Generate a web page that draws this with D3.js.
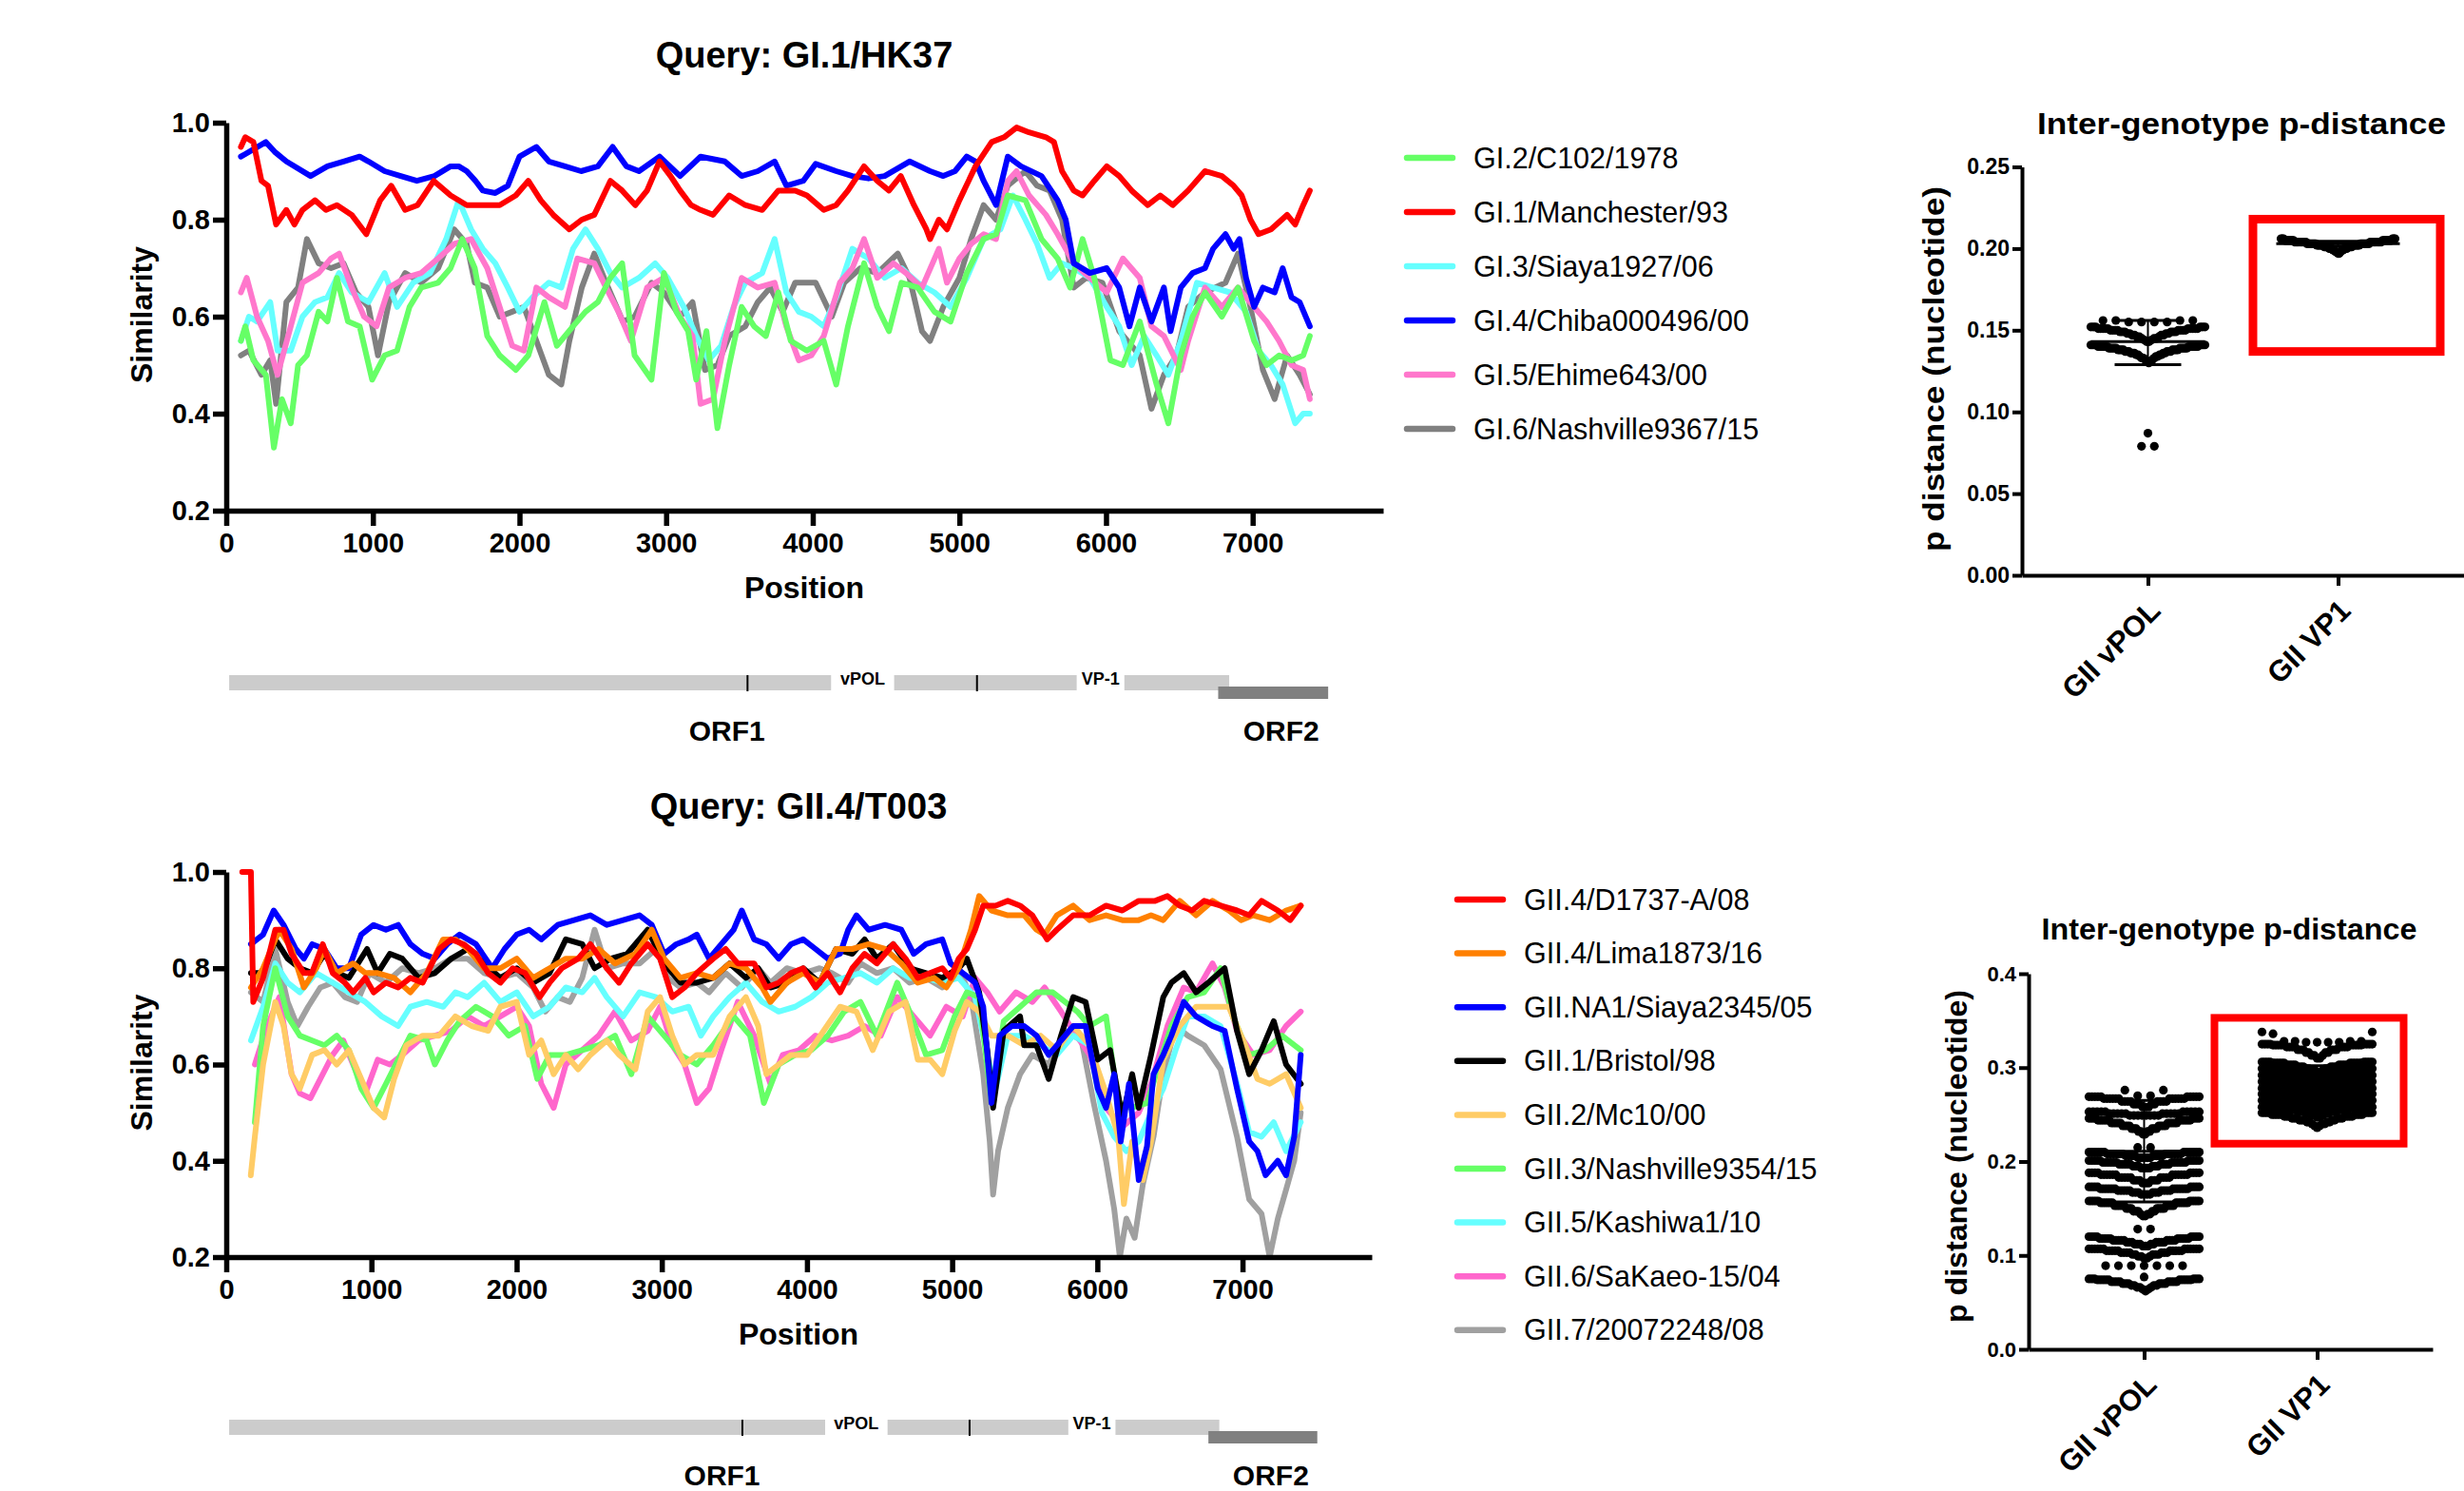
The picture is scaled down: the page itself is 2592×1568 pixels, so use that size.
<!DOCTYPE html>
<html><head><meta charset="utf-8">
<script src="https://cdn.jsdelivr.net/npm/d3@7"></script>
<style>
body{margin:0;background:#fff}
svg{display:block}
text{font-family:"Liberation Sans",Arial,sans-serif}
</style>
</head><body>
<svg id="c" width="2592" height="1568"></svg>
<script>
// ================= DATA =================
const positionTicks = [0,1000,2000,3000,4000,5000,6000,7000];
const similarityTicks = [0.2,0.4,0.6,0.8,1.0];

const giNames = ["GI.2/C102/1978","GI.1/Manchester/93","GI.3/Siaya1927/06","GI.4/Chiba000496/00","GI.5/Ehime643/00","GI.6/Nashville9367/15"];
const giColors = ["#66ff66","#ff0000","#66ffff","#0000ff","#ff77cc","#808080"];

const gi2_C102 = [[100,0.55],[130,0.58],[185,0.51],[270,0.48],[325,0.33],[380,0.43],[440,0.38],[490,0.50],[550,0.52],[630,0.61],[690,0.59],[755,0.68],[830,0.59],[910,0.58],[995,0.47],[1080,0.52],[1165,0.53],[1250,0.62],[1330,0.66],[1445,0.67],[1530,0.70],[1610,0.76],[1695,0.70],[1780,0.56],[1865,0.52],[1975,0.49],[2060,0.52],[2170,0.63],[2255,0.54],[2365,0.58],[2450,0.61],[2535,0.63],[2620,0.68],[2700,0.71],[2785,0.52],[2900,0.47],[2985,0.69],[3070,0.61],[3150,0.57],[3205,0.47],[3275,0.57],[3350,0.37],[3430,0.50],[3515,0.62],[3600,0.58],[3680,0.56],[3765,0.65],[3850,0.55],[3960,0.53],[4075,0.55],[4160,0.46],[4240,0.58],[4350,0.71],[4440,0.62],[4520,0.57],[4605,0.67],[4715,0.66],[4830,0.61],[4940,0.59],[5050,0.69],[5165,0.76],[5250,0.77],[5330,0.85],[5450,0.84],[5560,0.76],[5670,0.72],[5755,0.66],[5840,0.76],[5920,0.68],[6030,0.51],[6115,0.50],[6230,0.59],[6345,0.46],[6425,0.38],[6510,0.52],[6590,0.60],[6675,0.65],[6790,0.60],[6900,0.66],[7010,0.55],[7095,0.50],[7180,0.52],[7265,0.51],[7345,0.52],[7390,0.56]];
const gi1_Manchester = [[100,0.95],[130,0.97],[185,0.96],[240,0.88],[285,0.87],[340,0.79],[410,0.82],[465,0.79],[520,0.82],[605,0.84],[680,0.82],[755,0.83],[855,0.81],[955,0.77],[1050,0.84],[1125,0.87],[1220,0.82],[1305,0.83],[1415,0.88],[1530,0.85],[1640,0.83],[1750,0.83],[1865,0.83],[1975,0.85],[2060,0.88],[2145,0.84],[2230,0.81],[2340,0.78],[2425,0.80],[2510,0.81],[2620,0.88],[2700,0.86],[2790,0.83],[2870,0.86],[2955,0.92],[3030,0.89],[3095,0.86],[3170,0.83],[3235,0.82],[3320,0.81],[3430,0.85],[3540,0.83],[3655,0.82],[3765,0.86],[3880,0.86],[3960,0.85],[4075,0.82],[4160,0.83],[4240,0.86],[4350,0.91],[4440,0.88],[4520,0.86],[4600,0.89],[4690,0.83],[4775,0.78],[4800,0.76],[4860,0.80],[4915,0.78],[5000,0.84],[5110,0.91],[5220,0.96],[5305,0.97],[5390,0.99],[5475,0.98],[5590,0.97],[5645,0.96],[5700,0.90],[5780,0.86],[5840,0.85],[5920,0.88],[6005,0.91],[6090,0.89],[6175,0.86],[6285,0.83],[6370,0.85],[6455,0.83],[6560,0.86],[6675,0.90],[6790,0.89],[6870,0.87],[6925,0.85],[6985,0.80],[7040,0.77],[7125,0.78],[7235,0.81],[7290,0.79],[7345,0.83],[7390,0.86]];
const gi3_Siaya = [[100,0.55],[155,0.60],[210,0.59],[300,0.63],[350,0.53],[440,0.53],[520,0.60],[605,0.63],[690,0.64],[770,0.69],[855,0.65],[970,0.63],[1080,0.69],[1165,0.62],[1275,0.67],[1390,0.69],[1500,0.76],[1585,0.84],[1670,0.78],[1750,0.74],[1835,0.71],[1920,0.66],[2000,0.61],[2090,0.64],[2200,0.67],[2285,0.66],[2365,0.74],[2450,0.78],[2535,0.74],[2620,0.69],[2700,0.66],[2815,0.68],[2925,0.71],[3010,0.68],[3120,0.62],[3205,0.56],[3290,0.51],[3375,0.54],[3460,0.62],[3540,0.67],[3655,0.69],[3740,0.76],[3820,0.65],[3905,0.61],[3990,0.60],[4075,0.58],[4160,0.64],[4270,0.74],[4380,0.72],[4490,0.68],[4605,0.70],[4715,0.67],[4830,0.65],[4940,0.62],[5050,0.68],[5165,0.76],[5280,0.78],[5365,0.85],[5450,0.80],[5530,0.75],[5615,0.68],[5700,0.71],[5780,0.70],[5890,0.68],[6005,0.62],[6090,0.58],[6175,0.50],[6260,0.56],[6345,0.52],[6425,0.48],[6510,0.55],[6620,0.67],[6730,0.66],[6845,0.65],[6955,0.61],[7040,0.53],[7125,0.50],[7205,0.46],[7290,0.38],[7345,0.40],[7390,0.40]];
const gi4_Chiba = [[100,0.93],[270,0.96],[330,0.94],[410,0.92],[575,0.89],[690,0.91],[800,0.92],[910,0.93],[970,0.92],[1080,0.90],[1190,0.89],[1300,0.88],[1420,0.89],[1530,0.91],[1585,0.91],[1640,0.90],[1700,0.88],[1750,0.86],[1835,0.855],[1920,0.87],[2000,0.93],[2115,0.95],[2200,0.92],[2310,0.91],[2420,0.90],[2535,0.91],[2635,0.95],[2730,0.91],[2815,0.90],[2955,0.93],[3095,0.89],[3235,0.93],[3400,0.92],[3515,0.89],[3625,0.90],[3740,0.92],[3820,0.87],[3935,0.88],[4020,0.915],[4160,0.90],[4270,0.89],[4380,0.885],[4490,0.89],[4660,0.92],[4800,0.90],[4890,0.89],[4970,0.90],[5050,0.93],[5110,0.92],[5165,0.88],[5250,0.83],[5330,0.93],[5420,0.91],[5560,0.89],[5670,0.84],[5725,0.80],[5780,0.71],[5890,0.69],[6005,0.70],[6090,0.66],[6160,0.58],[6230,0.66],[6310,0.59],[6395,0.66],[6440,0.57],[6510,0.66],[6590,0.69],[6675,0.70],[6730,0.74],[6815,0.77],[6870,0.74],[6910,0.76],[6955,0.68],[7010,0.62],[7070,0.66],[7150,0.65],[7205,0.70],[7265,0.64],[7320,0.63],[7390,0.58]];
const gi5_Ehime = [[100,0.65],[140,0.68],[210,0.60],[285,0.55],[350,0.48],[440,0.58],[520,0.67],[630,0.69],[715,0.72],[770,0.73],[855,0.66],[940,0.60],[1025,0.58],[1110,0.66],[1220,0.68],[1330,0.69],[1445,0.72],[1555,0.75],[1670,0.76],[1780,0.70],[1865,0.62],[1950,0.54],[2030,0.53],[2115,0.66],[2200,0.64],[2310,0.62],[2395,0.72],[2510,0.71],[2590,0.66],[2675,0.61],[2760,0.55],[2870,0.66],[2985,0.68],[3095,0.60],[3180,0.56],[3235,0.42],[3320,0.43],[3400,0.55],[3515,0.68],[3625,0.66],[3740,0.67],[3820,0.58],[3905,0.51],[3990,0.52],[4075,0.56],[4185,0.67],[4270,0.70],[4350,0.76],[4440,0.68],[4550,0.71],[4635,0.69],[4745,0.66],[4860,0.74],[4915,0.67],[5000,0.72],[5080,0.75],[5165,0.77],[5250,0.76],[5330,0.88],[5390,0.90],[5475,0.85],[5590,0.81],[5670,0.77],[5780,0.71],[5890,0.68],[6005,0.65],[6115,0.72],[6230,0.68],[6310,0.58],[6395,0.56],[6510,0.49],[6560,0.55],[6675,0.66],[6790,0.62],[6900,0.66],[7010,0.62],[7095,0.59],[7180,0.55],[7265,0.50],[7345,0.49],[7390,0.43]];
const gi6_Nashville = [[100,0.52],[155,0.53],[240,0.48],[300,0.51],[340,0.42],[410,0.63],[490,0.66],[550,0.76],[630,0.71],[715,0.70],[800,0.71],[885,0.65],[970,0.62],[1035,0.52],[1110,0.63],[1220,0.69],[1330,0.67],[1445,0.70],[1555,0.78],[1640,0.75],[1695,0.67],[1780,0.66],[1865,0.60],[1950,0.61],[2030,0.62],[2115,0.55],[2200,0.48],[2285,0.46],[2340,0.55],[2425,0.66],[2510,0.73],[2590,0.67],[2705,0.59],[2785,0.60],[2900,0.67],[2985,0.65],[3095,0.60],[3180,0.63],[3265,0.49],[3350,0.50],[3430,0.56],[3540,0.58],[3625,0.63],[3710,0.66],[3795,0.61],[3880,0.67],[4020,0.67],[4130,0.60],[4215,0.67],[4325,0.70],[4440,0.69],[4580,0.73],[4660,0.68],[4745,0.57],[4800,0.55],[4890,0.62],[5000,0.68],[5080,0.76],[5165,0.83],[5250,0.80],[5330,0.87],[5450,0.90],[5530,0.87],[5615,0.86],[5700,0.80],[5780,0.66],[5865,0.68],[5975,0.67],[6090,0.57],[6230,0.52],[6310,0.41],[6395,0.48],[6480,0.52],[6560,0.62],[6675,0.65],[6815,0.67],[6900,0.73],[6985,0.62],[7070,0.49],[7150,0.43],[7235,0.52],[7320,0.48],[7390,0.44]];

const giiNames = ["GII.4/D1737-A/08","GII.4/Lima1873/16","GII.NA1/Siaya2345/05","GII.1/Bristol/98","GII.2/Mc10/00","GII.3/Nashville9354/15","GII.5/Kashiwa1/10","GII.6/SaKaeo-15/04","GII.7/20072248/08"];
const giiColors = ["#ff0000","#ff8000","#0000ff","#000000","#ffcc66","#66ff66","#66ffff","#ff66cc","#a0a0a0"];

const gii4_D1737 = [[110,1.0],[170,1.0],[186,0.73],[254,0.78],[338,0.88],[395,0.88],[450,0.83],[535,0.79],[590,0.79],[665,0.85],[733,0.79],[817,0.77],[874,0.75],[958,0.78],[1015,0.75],[1100,0.77],[1184,0.76],[1268,0.78],[1353,0.77],[1466,0.84],[1550,0.86],[1635,0.85],[1720,0.83],[1804,0.79],[1888,0.77],[1973,0.80],[2058,0.79],[2159,0.74],[2227,0.77],[2311,0.80],[2424,0.82],[2508,0.85],[2621,0.80],[2706,0.77],[2790,0.81],[2903,0.85],[2988,0.82],[3072,0.74],[3157,0.76],[3241,0.79],[3354,0.82],[3439,0.84],[3523,0.81],[3636,0.81],[3720,0.76],[3805,0.77],[3890,0.79],[3974,0.80],[4059,0.76],[4143,0.79],[4228,0.75],[4312,0.80],[4397,0.83],[4481,0.81],[4594,0.85],[4679,0.82],[4763,0.78],[4848,0.79],[4932,0.80],[4989,0.78],[5045,0.82],[5101,0.84],[5158,0.88],[5214,0.93],[5299,0.93],[5383,0.94],[5468,0.93],[5552,0.91],[5654,0.86],[5721,0.88],[5834,0.91],[5947,0.91],[6060,0.93],[6172,0.92],[6285,0.94],[6398,0.94],[6483,0.95],[6567,0.93],[6652,0.92],[6736,0.94],[6849,0.93],[6962,0.92],[7046,0.91],[7131,0.94],[7243,0.92],[7328,0.90],[7401,0.93]];
const gii4_Lima = [[170,0.76],[254,0.80],[366,0.88],[450,0.84],[535,0.76],[620,0.80],[676,0.84],[761,0.79],[874,0.81],[958,0.79],[1043,0.79],[1156,0.78],[1268,0.75],[1381,0.79],[1494,0.86],[1578,0.86],[1663,0.84],[1776,0.80],[1888,0.80],[2001,0.82],[2114,0.78],[2227,0.80],[2339,0.82],[2452,0.82],[2565,0.84],[2678,0.81],[2818,0.83],[2931,0.88],[3016,0.82],[3128,0.78],[3241,0.79],[3354,0.78],[3467,0.81],[3579,0.80],[3692,0.76],[3748,0.73],[3861,0.77],[3974,0.79],[4087,0.77],[4200,0.84],[4312,0.84],[4425,0.85],[4538,0.84],[4650,0.81],[4763,0.77],[4876,0.78],[4960,0.76],[5045,0.80],[5130,0.88],[5186,0.95],[5271,0.92],[5383,0.91],[5496,0.91],[5581,0.88],[5637,0.87],[5721,0.91],[5834,0.93],[5947,0.90],[6060,0.91],[6172,0.90],[6285,0.90],[6370,0.91],[6454,0.90],[6567,0.94],[6680,0.91],[6793,0.94],[6905,0.92],[6990,0.90],[7074,0.91],[7187,0.90],[7300,0.92],[7401,0.93]];
const giiNA1_Siaya = [[170,0.85],[254,0.87],[327,0.92],[395,0.89],[479,0.84],[535,0.82],[592,0.85],[676,0.84],[761,0.80],[845,0.80],[930,0.87],[1015,0.89],[1100,0.88],[1184,0.89],[1268,0.85],[1353,0.83],[1437,0.82],[1522,0.85],[1607,0.87],[1720,0.85],[1832,0.80],[1917,0.84],[2001,0.87],[2086,0.88],[2170,0.86],[2283,0.89],[2396,0.90],[2508,0.91],[2621,0.89],[2734,0.90],[2847,0.91],[2931,0.89],[3016,0.83],[3100,0.85],[3185,0.86],[3241,0.87],[3326,0.82],[3410,0.85],[3495,0.88],[3551,0.92],[3636,0.86],[3720,0.85],[3805,0.82],[3890,0.85],[3974,0.86],[4059,0.84],[4143,0.82],[4228,0.83],[4284,0.88],[4341,0.91],[4425,0.88],[4538,0.89],[4650,0.88],[4735,0.83],[4820,0.85],[4932,0.86],[4989,0.81],[5073,0.79],[5158,0.77],[5214,0.72],[5271,0.52],[5327,0.66],[5412,0.68],[5496,0.68],[5581,0.66],[5665,0.62],[5750,0.65],[5834,0.68],[5919,0.68],[6003,0.55],[6060,0.51],[6116,0.58],[6161,0.44],[6218,0.56],[6285,0.36],[6342,0.43],[6387,0.58],[6454,0.62],[6510,0.66],[6595,0.73],[6680,0.70],[6793,0.68],[6877,0.67],[6962,0.55],[7046,0.44],[7103,0.42],[7159,0.37],[7243,0.40],[7300,0.37],[7356,0.45],[7401,0.62]];
const gii1_Bristol = [[170,0.79],[254,0.79],[338,0.86],[423,0.82],[507,0.80],[592,0.79],[676,0.83],[761,0.79],[845,0.78],[970,0.84],[1043,0.79],[1127,0.83],[1212,0.82],[1325,0.78],[1437,0.79],[1550,0.82],[1663,0.84],[1776,0.81],[1888,0.78],[2001,0.80],[2114,0.77],[2227,0.79],[2339,0.86],[2452,0.85],[2537,0.80],[2649,0.82],[2762,0.83],[2903,0.88],[3016,0.81],[3128,0.77],[3241,0.77],[3354,0.78],[3467,0.81],[3579,0.78],[3664,0.80],[3748,0.76],[3861,0.77],[3974,0.80],[4087,0.77],[4200,0.84],[4312,0.83],[4397,0.86],[4481,0.82],[4594,0.85],[4707,0.80],[4820,0.79],[4932,0.78],[5045,0.80],[5101,0.82],[5186,0.75],[5242,0.63],[5282,0.51],[5355,0.67],[5468,0.70],[5496,0.64],[5581,0.64],[5665,0.57],[5750,0.66],[5834,0.74],[5919,0.73],[6003,0.61],[6088,0.63],[6172,0.49],[6240,0.58],[6285,0.51],[6370,0.62],[6454,0.74],[6510,0.77],[6595,0.79],[6680,0.75],[6764,0.77],[6877,0.80],[6962,0.67],[7046,0.58],[7131,0.63],[7215,0.69],[7300,0.60],[7401,0.56]];
const gii2_Mc10 = [[169,0.37],[197,0.45],[254,0.60],[338,0.73],[395,0.68],[450,0.58],[507,0.55],[592,0.62],[676,0.63],[761,0.60],[845,0.63],[930,0.57],[1015,0.51],[1088,0.49],[1156,0.57],[1240,0.64],[1353,0.66],[1466,0.66],[1578,0.70],[1691,0.68],[1804,0.67],[1888,0.72],[2001,0.73],[2086,0.62],[2170,0.65],[2255,0.58],[2339,0.62],[2424,0.59],[2508,0.62],[2621,0.65],[2706,0.62],[2818,0.59],[2903,0.71],[2988,0.74],[3072,0.66],[3157,0.60],[3241,0.62],[3354,0.62],[3467,0.70],[3579,0.74],[3664,0.68],[3720,0.58],[3805,0.60],[3890,0.62],[4002,0.62],[4115,0.67],[4228,0.72],[4341,0.71],[4453,0.63],[4566,0.71],[4679,0.73],[4763,0.61],[4848,0.61],[4932,0.58],[5017,0.67],[5101,0.73],[5186,0.71],[5271,0.66],[5383,0.66],[5496,0.64],[5609,0.66],[5721,0.63],[5834,0.68],[5947,0.64],[6060,0.54],[6144,0.45],[6183,0.31],[6240,0.44],[6313,0.36],[6370,0.44],[6454,0.61],[6567,0.68],[6680,0.72],[6793,0.72],[6905,0.72],[7018,0.64],[7103,0.57],[7187,0.56],[7300,0.58],[7401,0.51]];
const gii3_Nashville = [[197,0.48],[254,0.68],[338,0.80],[423,0.70],[507,0.66],[592,0.65],[676,0.64],[761,0.66],[845,0.63],[930,0.55],[1015,0.51],[1100,0.56],[1184,0.61],[1268,0.66],[1381,0.65],[1437,0.60],[1522,0.65],[1607,0.69],[1720,0.72],[1832,0.70],[1945,0.66],[2058,0.68],[2142,0.57],[2227,0.62],[2339,0.62],[2452,0.63],[2565,0.64],[2678,0.66],[2790,0.58],[2903,0.70],[3016,0.66],[3128,0.62],[3241,0.60],[3354,0.64],[3495,0.70],[3608,0.66],[3703,0.52],[3805,0.60],[3918,0.62],[4030,0.63],[4143,0.66],[4256,0.71],[4369,0.73],[4481,0.66],[4622,0.77],[4707,0.71],[4820,0.62],[4932,0.63],[5017,0.70],[5101,0.75],[5186,0.74],[5271,0.52],[5355,0.69],[5468,0.72],[5581,0.75],[5693,0.75],[5778,0.73],[5862,0.71],[5947,0.68],[6060,0.70],[6144,0.52],[6229,0.51],[6342,0.52],[6426,0.60],[6510,0.68],[6623,0.74],[6736,0.75],[6849,0.80],[6933,0.70],[7046,0.62],[7159,0.63],[7272,0.66],[7401,0.63]];
const gii5_Kashiwa = [[170,0.65],[254,0.72],[338,0.81],[423,0.77],[507,0.75],[620,0.79],[733,0.77],[845,0.75],[958,0.73],[1071,0.70],[1184,0.68],[1268,0.72],[1381,0.73],[1494,0.72],[1578,0.75],[1663,0.74],[1776,0.77],[1888,0.73],[2001,0.75],[2114,0.70],[2227,0.72],[2339,0.76],[2452,0.75],[2537,0.78],[2621,0.74],[2734,0.70],[2847,0.75],[2960,0.74],[3072,0.71],[3185,0.72],[3269,0.66],[3354,0.70],[3467,0.74],[3579,0.77],[3692,0.73],[3805,0.71],[3918,0.72],[4030,0.74],[4143,0.77],[4256,0.78],[4369,0.79],[4481,0.77],[4594,0.80],[4707,0.78],[4820,0.78],[4932,0.77],[5045,0.78],[5158,0.74],[5242,0.62],[5299,0.55],[5383,0.66],[5496,0.66],[5609,0.64],[5721,0.62],[5834,0.66],[5947,0.64],[6031,0.50],[6116,0.45],[6200,0.42],[6285,0.44],[6370,0.50],[6454,0.55],[6539,0.63],[6623,0.70],[6736,0.70],[6849,0.68],[6962,0.56],[7046,0.46],[7131,0.45],[7215,0.48],[7300,0.42],[7401,0.48]];
const gii6_SaKaeo = [[197,0.60],[282,0.68],[366,0.74],[450,0.58],[507,0.54],[580,0.53],[648,0.57],[733,0.62],[806,0.65],[874,0.60],[958,0.54],[1043,0.61],[1127,0.60],[1212,0.62],[1325,0.65],[1437,0.66],[1550,0.67],[1663,0.70],[1776,0.68],[1888,0.70],[2001,0.72],[2086,0.68],[2170,0.56],[2255,0.51],[2339,0.60],[2452,0.63],[2565,0.66],[2678,0.71],[2790,0.65],[2903,0.67],[2988,0.72],[3072,0.64],[3157,0.60],[3241,0.52],[3326,0.55],[3410,0.63],[3523,0.73],[3636,0.66],[3748,0.56],[3833,0.62],[3946,0.63],[4059,0.66],[4171,0.65],[4284,0.66],[4397,0.68],[4509,0.66],[4622,0.74],[4735,0.70],[4848,0.66],[4960,0.72],[5073,0.70],[5158,0.78],[5242,0.75],[5327,0.71],[5440,0.75],[5552,0.73],[5637,0.76],[5750,0.71],[5834,0.67],[5947,0.62],[6060,0.51],[6172,0.47],[6285,0.50],[6370,0.56],[6483,0.68],[6595,0.76],[6680,0.75],[6793,0.81],[6877,0.76],[6962,0.67],[7074,0.62],[7187,0.63],[7300,0.68],[7401,0.71]];
const gii7_20072248 = [[170,0.75],[254,0.73],[338,0.84],[423,0.73],[490,0.68],[564,0.72],[648,0.76],[733,0.77],[817,0.74],[902,0.73],[986,0.79],[1100,0.77],[1212,0.80],[1325,0.79],[1437,0.80],[1550,0.82],[1663,0.82],[1776,0.79],[1888,0.78],[2001,0.79],[2114,0.76],[2198,0.71],[2283,0.74],[2367,0.73],[2452,0.78],[2537,0.88],[2621,0.80],[2734,0.81],[2847,0.81],[2960,0.84],[3044,0.78],[3128,0.76],[3241,0.77],[3326,0.75],[3439,0.79],[3551,0.76],[3664,0.80],[3748,0.77],[3861,0.80],[3974,0.79],[4087,0.80],[4171,0.79],[4284,0.77],[4369,0.81],[4481,0.79],[4594,0.80],[4707,0.77],[4820,0.78],[4932,0.76],[5045,0.80],[5130,0.74],[5214,0.58],[5259,0.44],[5282,0.33],[5316,0.42],[5383,0.51],[5468,0.58],[5552,0.62],[5665,0.60],[5778,0.67],[5891,0.65],[5975,0.52],[6060,0.40],[6116,0.30],[6155,0.20],[6200,0.28],[6257,0.24],[6313,0.35],[6387,0.45],[6454,0.58],[6539,0.68],[6623,0.66],[6736,0.64],[6849,0.59],[6962,0.45],[7046,0.32],[7131,0.29],[7187,0.20],[7243,0.28],[7300,0.34],[7356,0.40],[7401,0.50]];

// genome map (nucleotide positions)
const orf1Span = [20, 6840];
const orf2Span = [6765, 7515];
const genomeMarkers = [3555, 5120];
const genomeLabels = [["vPOL", 4125, 4555], ["VP-1", 5800, 6125]];
const orfLabels = [["ORF1", 3415], ["ORF2", 7195]];

// p-distance panels
const pdCategories = ["GII vPOL", "GII VP1"];
const pdTopTicks = [0.00, 0.05, 0.10, 0.15, 0.20, 0.25];
const pdBottomTicks = [0.0, 0.1, 0.2, 0.3, 0.4];
// rows of points: each row is a list of [p-distance, count]
const pdTopVPOL = [
  [[0.079,2]],
  [[0.087,1]],
  [[0.130,1],[0.131,2],[0.132,2],[0.133,3],[0.134,3],[0.135,4],[0.136,5],[0.137,6],[0.138,8],[0.139,10],[0.140,12],[0.141,8]],
  [[0.143,2],[0.144,2],[0.145,3],[0.146,3],[0.147,4],[0.148,4],[0.149,6],[0.150,8],[0.151,10],[0.152,6]],
  [[0.155,4],[0.156,4]]
];
const pdTopVP1 = [
  [[0.197,2],[0.198,3],[0.199,4],[0.200,6],[0.201,8],[0.202,12],[0.203,16],[0.204,20],[0.205,16],[0.206,6]]
];
const pdBotVPOL = [
  [[0.062,1],[0.064,2],[0.066,3],[0.068,4],[0.070,6],[0.072,8],[0.074,10],[0.075,6]],
  [[0.077,1]],
  [[0.089,7]],
  [[0.097,2],[0.099,3],[0.101,5],[0.103,7],[0.105,10],[0.107,12]],
  [[0.110,3],[0.112,5],[0.114,7],[0.116,9],[0.118,10],[0.120,8]],
  [[0.128,2]],
  [[0.142,2],[0.144,3],[0.147,5],[0.150,7],[0.153,9],[0.156,12],[0.158,10]],
  [[0.165,4],[0.167,6],[0.169,9],[0.171,12],[0.173,8]],
  [[0.177,3],[0.180,6],[0.183,9],[0.186,12],[0.188,8]],
  [[0.193,4],[0.195,6],[0.197,9],[0.199,12],[0.201,10]],
  [[0.204,5],[0.206,8],[0.208,12],[0.210,12]],
  [[0.215,2]],
  [[0.229,2],[0.232,4],[0.235,6],[0.238,8],[0.241,10],[0.244,12],[0.246,8]],
  [[0.249,8],[0.251,10],[0.253,10]],
  [[0.258,3],[0.261,5],[0.264,8],[0.267,12],[0.269,10]],
  [[0.270,2],[0.276,2]]
];
const pdBotVP1 = [
  [[0.236,1],[0.238,2],[0.240,3],[0.242,4],[0.244,5],[0.246,6],[0.248,7],[0.250,9],[0.252,8]],
  [[0.247,2],[0.249,3],[0.251,4],[0.253,6],[0.255,8],[0.257,10],[0.258,8]],
  [[0.254,2],[0.256,3],[0.258,4],[0.260,6],[0.262,8],[0.264,10],[0.265,8]],
  [[0.261,2],[0.263,3],[0.265,4],[0.267,6],[0.269,8],[0.271,10],[0.272,8]],
  [[0.267,2],[0.269,3],[0.271,4],[0.273,6],[0.275,8],[0.277,10],[0.278,8]],
  [[0.274,2],[0.276,3],[0.278,4],[0.280,6],[0.282,8],[0.284,10],[0.285,8]],
  [[0.281,2],[0.283,3],[0.285,4],[0.287,6],[0.289,8],[0.291,10],[0.292,8]],
  [[0.288,2],[0.290,3],[0.292,4],[0.294,6],[0.296,8],[0.298,10],[0.299,8]],
  [[0.295,2],[0.297,3],[0.299,4],[0.301,6],[0.303,8],[0.305,10],[0.306,8]],
  [[0.310,2],[0.313,3],[0.316,4],[0.319,6],[0.322,8],[0.324,10],[0.325,8]],
  [[0.327,4],[0.328,4],[0.336,1],[0.338,2]]
];
const pdTopMean = [0.143, 0.203];
const pdTopSD = [[0.129, 0.156], [0.2015, 0.2045]];
const pdBotMean = [0.211, 0.285];
const pdBotSD = [[0.157, 0.265], [0.268, 0.302]];
const pdTopHighlight = [0.137, 0.218];
const pdBotHighlight = [0.219, 0.353];

// ================= DRAWING =================
const svg = d3.select("#c");
const FONT = '"Liberation Sans",Arial,sans-serif';

function styleAxis(g, size, sw) {
  g.attr("font-family", FONT).attr("font-size", size).attr("font-weight", "bold");
  g.selectAll("path.domain").attr("stroke", "#000").attr("stroke-width", sw);
  g.selectAll(".tick line").attr("stroke", "#000").attr("stroke-width", sw);
  g.selectAll(".tick text").attr("fill", "#000");
}

function simPanel(o) {
  const g = svg.append("g");
  const x = d3.scaleLinear().domain([0, 7890]).range([o.x0, o.xEnd]);
  const y = d3.scaleLinear().domain([0.2, 1.0]).range([o.yBottom, o.yTop]);
  const line = d3.line().x(d => x(d[0])).y(d => y(d[1]));
  o.order.forEach(i => {
    g.append("path").datum(o.series[i]).attr("d", line)
      .attr("fill", "none").attr("stroke", o.colors[i]).attr("stroke-width", 6)
      .attr("stroke-linejoin", "round").attr("stroke-linecap", "round");
  });
  const xa = g.append("g").attr("transform", `translate(0,${o.yBottom})`)
    .call(d3.axisBottom(x).tickValues(positionTicks).tickSize(16).tickSizeOuter(0).tickPadding(7).tickFormat(d3.format("d")));
  styleAxis(xa, 29, 5.5);
  const ya = g.append("g").attr("transform", `translate(${o.x0},0)`)
    .call(d3.axisLeft(y).tickValues(similarityTicks).tickSize(14).tickSizeOuter(0).tickPadding(3).tickFormat(d3.format(".1f")));
  styleAxis(ya, 29, 5.5);

  g.append("text").attr("x", o.titleX).attr("y", o.titleY).attr("text-anchor", "middle")
    .attr("font-size", 38).attr("font-weight", "bold").text(o.title);
  g.append("text").attr("x", o.titleX).attr("y", o.yBottom + 92).attr("text-anchor", "middle")
    .attr("font-size", 32).attr("font-weight", "bold").text("Position");
  g.append("text").attr("transform", `translate(160,${(o.yTop + o.yBottom) / 2 - 2}) rotate(-90)`)
    .attr("text-anchor", "middle").attr("font-size", 32).attr("font-weight", "bold").text("Similarity");

  // legend
  const lg = g.append("g");
  o.names.forEach((n, i) => {
    const ly = o.legY + i * o.legStep;
    lg.append("line").attr("x1", o.legX).attr("x2", o.legX + 48).attr("y1", ly).attr("y2", ly)
      .attr("stroke", o.colors[i]).attr("stroke-width", 6.5).attr("stroke-linecap", "round");
    lg.append("text").attr("x", o.legX + 70).attr("y", ly + 10.5).attr("font-size", 30.5).text(n);
  });

  // genome map
  const gm = g.append("g");
  const yb = o.yBottom + o.genomeOffset;
  gm.append("rect").attr("x", x(orf1Span[0])).attr("width", x(orf1Span[1]) - x(orf1Span[0]))
    .attr("y", yb).attr("height", 16).attr("fill", "#cccccc");
  gm.append("rect").attr("x", x(orf2Span[0])).attr("width", x(orf2Span[1]) - x(orf2Span[0]))
    .attr("y", yb + 12).attr("height", 13).attr("fill", "#808080");
  genomeMarkers.forEach(m => gm.append("line").attr("x1", x(m)).attr("x2", x(m))
    .attr("y1", yb).attr("y2", yb + 17).attr("stroke", "#000").attr("stroke-width", 2));
  genomeLabels.forEach(([t, a, b]) => {
    gm.append("rect").attr("x", x(a)).attr("width", x(b) - x(a)).attr("y", yb - 5).attr("height", 22).attr("fill", "#fff");
    gm.append("text").attr("x", (x(a) + x(b)) / 2).attr("y", yb + 10).attr("text-anchor", "middle")
      .attr("font-size", 18).attr("font-weight", "bold").text(t);
  });
  orfLabels.forEach(([t, p]) => {
    gm.append("text").attr("x", x(p)).attr("y", yb + 69).attr("text-anchor", "middle")
      .attr("font-size", 30).attr("font-weight", "bold").text(t);
  });
}

simPanel({
  x0: 238, xEnd: 1455, yTop: 129, yBottom: 537,
  series: [gi2_C102, gi1_Manchester, gi3_Siaya, gi4_Chiba, gi5_Ehime, gi6_Nashville],
  colors: giColors, names: giNames, order: [5, 2, 4, 0, 3, 1],
  title: "Query: GI.1/HK37", titleX: 846, titleY: 71,
  legX: 1480, legY: 166, legStep: 57, genomeOffset: 173
});
simPanel({
  x0: 238, xEnd: 1443, yTop: 917, yBottom: 1322,
  series: [gii4_D1737, gii4_Lima, giiNA1_Siaya, gii1_Bristol, gii2_Mc10, gii3_Nashville, gii5_Kashiwa, gii6_SaKaeo, gii7_20072248],
  colors: giiColors, names: giiNames, order: [8, 7, 6, 5, 4, 3, 2, 1, 0],
  title: "Query: GII.4/T003", titleX: 840, titleY: 861,
  legX: 1533, legY: 946, legStep: 56.6, genomeOffset: 171
});

// row-based scatter layout: lowest values at the centre of each row, spreading outwards
function rowLayout(rows, cx, y, spacing, maxHalf) {
  const pts = [];
  rows.forEach(row => {
    const vals = [];
    row.forEach(([v, n]) => { for (let i = 0; i < n; i++) vals.push(v); });
    vals.sort((a, b) => a - b);
    const n = vals.length;
    const sp = n > 1 ? Math.min(spacing, 2 * maxHalf / (n - 1)) : 0;
    vals.forEach((v, i) => {
      let k;
      if (n % 2 === 1) k = i === 0 ? 0 : (i % 2 === 1 ? (i + 1) / 2 : -i / 2);
      else { const m = Math.floor(i / 2); k = i % 2 === 0 ? (m + 0.5) : -(m + 0.5); }
      pts.push([cx + k * sp, y(v)]);
    });
  });
  return pts;
}

function distPanel(o) {
  const g = svg.append("g");
  const y = d3.scaleLinear().domain([0, o.yMax]).range([o.y0, o.yTop]);
  const x = d3.scalePoint().domain(pdCategories).range([o.xAxis, o.xEnd]).padding(o.pad);
  const ya = g.append("g").attr("transform", `translate(${o.xAxis},0)`)
    .call(d3.axisLeft(y).tickValues(o.ticks).tickSize(10).tickSizeOuter(0).tickPadding(3).tickFormat(d3.format(o.fmt)));
  styleAxis(ya, o.tickFont, 4);
  const xa = g.append("g").attr("transform", `translate(0,${o.y0})`)
    .call(d3.axisBottom(x).tickSize(11).tickSizeOuter(0).tickFormat(""));
  styleAxis(xa, 10, 4);

  o.groups.forEach((rows, i) => {
    const pts = rowLayout(rows, x(pdCategories[i]), y, o.spacing, o.maxHalf[i]);
    g.append("g").selectAll("circle").data(pts).join("circle")
      .attr("cx", d => d[0]).attr("cy", d => d[1]).attr("r", 4.6).attr("fill", "#000");
  });
  // mean and SD
  pdCategories.forEach((c, i) => {
    const cx = x(c);
    g.append("line").attr("x1", cx - o.meanHalf[i]).attr("x2", cx + o.meanHalf[i])
      .attr("y1", y(o.mean[i])).attr("y2", y(o.mean[i])).attr("stroke", "#000").attr("stroke-width", 3);
    g.append("line").attr("x1", cx).attr("x2", cx).attr("y1", y(o.sd[i][0])).attr("y2", y(o.sd[i][1]))
      .attr("stroke", "#000").attr("stroke-width", 2);
    o.sd[i].forEach(v => g.append("line").attr("x1", cx - o.capHalf[i]).attr("x2", cx + o.capHalf[i])
      .attr("y1", y(v)).attr("y2", y(v)).attr("stroke", "#000").attr("stroke-width", 3));
  });
  // highlight box around VP1
  const hx = x(pdCategories[1]) + o.boxShift;
  g.append("rect").attr("x", hx - o.boxHalf).attr("width", 2 * o.boxHalf)
    .attr("y", y(o.highlight[1])).attr("height", y(o.highlight[0]) - y(o.highlight[1]))
    .attr("fill", "none").attr("stroke", "#ff0000").attr("stroke-width", o.boxStroke);

  g.append("text").attr("x", o.titleX).attr("y", o.titleY).attr("text-anchor", "middle")
    .attr("font-size", o.titleFont).attr("font-weight", "bold")
    .attr("textLength", o.titleLen).attr("lengthAdjust", "spacingAndGlyphs").text("Inter-genotype p-distance");
  g.append("text").attr("transform", `translate(${o.ylabX},${o.ylabY}) rotate(-90)`).attr("text-anchor", "middle")
    .attr("font-size", 31).attr("font-weight", "bold")
    .attr("textLength", o.ylabLen).attr("lengthAdjust", "spacingAndGlyphs").text("p distance (nucleotide)");
  pdCategories.forEach(c => {
    g.append("text").attr("transform", `translate(${x(c) + 15},${o.y0 + 39}) rotate(-45)`)
      .attr("text-anchor", "end").attr("font-size", 31).attr("font-weight", "bold").text(c);
  });
}

distPanel({
  xAxis: 2127, xEnd: 2592, pad: 0.6625, y0: 605, yTop: 175.5, yMax: 0.25,
  ticks: pdTopTicks, fmt: ".2f", tickFont: 23,
  groups: [pdTopVPOL, pdTopVP1], spacing: 13.5, maxHalf: [60, 60],
  mean: pdTopMean, sd: pdTopSD, meanHalf: [60, 65], capHalf: [35, 35],
  highlight: pdTopHighlight, boxShift: 9, boxHalf: 98.5, boxStroke: 9,
  titleX: 2358, titleY: 141, titleFont: 31, titleLen: 430,
  ylabX: 2045, ylabY: 388, ylabLen: 384
});
distPanel({
  xAxis: 2134, xEnd: 2559, pad: 0.6676, y0: 1419, yTop: 1024, yMax: 0.4,
  ticks: pdBottomTicks, fmt: ".1f", tickFont: 22,
  groups: [pdBotVPOL, pdBotVP1], spacing: 13.5, maxHalf: [58, 58],
  mean: pdBotMean, sd: pdBotSD, meanHalf: [60, 60], capHalf: [35, 35],
  highlight: pdBotHighlight, boxShift: -8.5, boxHalf: 99.5, boxStroke: 8,
  titleX: 2345, titleY: 988, titleFont: 32, titleLen: 395,
  ylabX: 2069, ylabY: 1216, ylabLen: 350
});
</script>
</body></html>
